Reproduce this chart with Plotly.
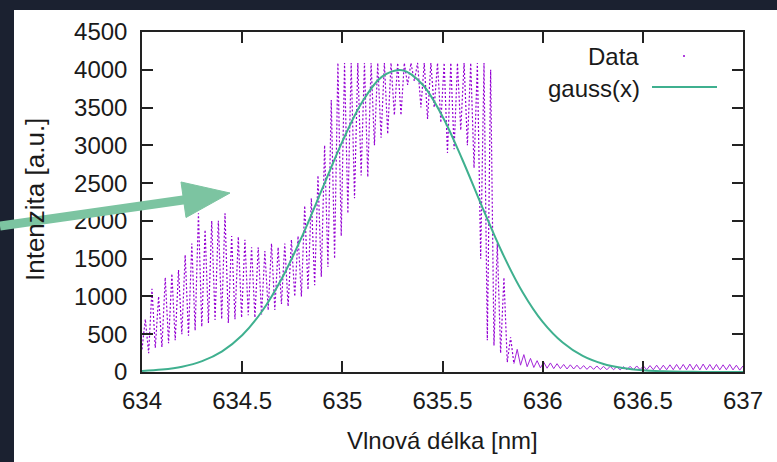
import plotly.graph_objects as go

# ---------------- data ----------------
x_tick_vals = [634, 634.5, 635, 635.5, 636, 636.5, 637]
x_tick_text = ["634", "634.5", "635", "635.5", "636", "636.5", "637"]
y_tick_vals = [0, 500, 1000, 1500, 2000, 2500, 3000, 3500, 4000, 4500]
y_tick_text = ["0", "500", "1000", "1500", "2000", "2500", "3000", "3500", "4000", "4500"]

# measured spectrum: fringe minima / maxima, one pair per fringe, 634 .. 637 nm
data_lows = [
    300, 250, 320, 330, 380, 420, 500, 480, 550, 600,
    650, 690, 700, 650, 700, 720, 750, 720, 760, 820,
    820, 900, 870, 1000, 1000, 1090, 1150, 1260, 1390, 1500,
    1800, 2100, 2300, 2600, 2580, 3000, 3100, 3150, 3400, 3400,
    3800, 3850, 3500, 3350, 3500, 3300, 2900, 2950, 3200, 3000,
    2700, 1500, 420, 350, 250, 130, 110, 90, 70, 60,
    55, 50, 45, 45, 40, 40, 38, 35, 35, 32,
    30, 30, 28, 30, 30, 32, 30, 30, 28, 30,
    30, 32, 30, 30, 28, 30, 30, 28, 30, 28, 25,
]
data_highs = [
    700, 1100, 1000, 1250, 1300, 1350, 1550, 1700, 2100, 1880,
    2000, 2000, 2100, 1800, 1790, 1750, 1650, 1650, 1600, 1700,
    1650, 1700, 1750, 1800, 2200, 2300, 2600, 3000, 3600, 4090,
    4090, 4090, 4090, 4090, 4090, 4090, 4090, 4090, 4090, 4090,
    4090, 4090, 4090, 4090, 4090, 4090, 4090, 4090, 4090, 4090,
    4090, 4090, 4000, 1700, 1250, 460, 300, 230, 180, 150,
    130, 120, 110, 100, 95, 90, 85, 80, 80, 75,
    75, 70, 70, 75, 80, 80, 85, 90, 90, 95,
    100, 100, 105, 100, 105, 100, 100, 95, 100, 90, 80,
]
wl_first, wl_last = 634.0, 637.0
tail_start = 635.84   # from here the ripples are drawn as a continuous trace

# fitted gaussian gauss(x), sampled every 0.1 nm
gauss_x = [634.0, 634.1, 634.2, 634.3, 634.4, 634.5, 634.6, 634.7, 634.8, 634.9,
           635.0, 635.1, 635.2, 635.3, 635.4, 635.5, 635.6, 635.7, 635.8, 635.9,
           636.0, 636.1, 636.2, 636.3, 636.4, 636.5, 636.6, 636.7, 636.8, 636.9, 637.0]
gauss_y = [14, 32, 70, 144, 274, 486, 807, 1248, 1801, 2426,
           3049, 3576, 3912, 3994, 3806, 3383, 2806, 2172, 1568, 1057,
           664, 390, 213, 109, 52, 23, 10, 4, 1, 0, 0]

# ---------------- build ----------------
data_y = []
for lo, hi in zip(data_lows, data_highs):
    data_y += [lo, hi]
n = len(data_y)
data_x = [wl_first + (wl_last - wl_first) * i / (n - 1) for i in range(n)]
cut = next(i for i, v in enumerate(data_x) if v >= tail_start)

PURPLE = "#9400d3"
GREEN = "#3fb08f"
ARROW = "#7cc4a1"
DARK = "#1b2130"
FONT = "Liberation Sans"
TXT = "#1a1a1a"
FS = 24

W, H = 777, 462
L, R, T, B = 142, 743, 32, 372   # plot-area pixel box


def px(xp):
    return (xp - L) / (R - L)


def py(yp):
    return (B - yp) / (B - T)


fig = go.Figure()
fig.add_trace(go.Scatter(
    x=data_x[:cut + 1], y=data_y[:cut + 1], mode="lines", name="Data",
    line=dict(color=PURPLE, width=1.2, dash="2px,2px"), showlegend=False))
fig.add_trace(go.Scatter(
    x=data_x[cut:], y=data_y[cut:], mode="lines", name="Data",
    line=dict(color=PURPLE, width=1), opacity=0.85, showlegend=False))
fig.add_trace(go.Scatter(
    x=gauss_x, y=gauss_y, mode="lines", name="gauss(x)",
    line=dict(color=GREEN, width=2, shape="spline", smoothing=1.0), showlegend=False))

axis_common = dict(
    showline=True, linecolor="#222", linewidth=1.5, mirror="ticks",
    ticks="inside", ticklen=11, tickwidth=1.5, tickcolor="#222",
    showgrid=False, zeroline=False,
    tickfont=dict(family=FONT, size=FS, color=TXT),
)
fig.update_xaxes(range=[634, 637], tickvals=x_tick_vals, ticktext=x_tick_text,
                 ticklabelstandoff=6, **axis_common)
fig.update_yaxes(range=[0, 4500], tickvals=y_tick_vals, ticktext=y_tick_text,
                 ticklabelstandoff=8, **axis_common)

annotations = [
    dict(text="Intenzita [a.u.]", xref="paper", yref="paper", x=px(35), y=py(200),
         textangle=-90, showarrow=False, xanchor="center", yanchor="middle",
         font=dict(family=FONT, size=26, color=TXT)),
    dict(text="Vlnová délka [nm]", xref="paper", yref="paper", x=0.5, y=py(440),
         showarrow=False, xanchor="center", yanchor="middle",
         font=dict(family=FONT, size=FS, color=TXT)),
    dict(text="Data", xref="paper", yref="paper", x=px(641), y=py(57),
         showarrow=False, xanchor="right", yanchor="middle",
         font=dict(family=FONT, size=FS, color=TXT)),
    dict(text="gauss(x)", xref="paper", yref="paper", x=px(642), y=py(88),
         showarrow=False, xanchor="right", yanchor="middle",
         font=dict(family=FONT, size=FS, color=TXT)),
]

shapes = [
    # dark frame bands of the screenshot
    dict(type="rect", xref="paper", yref="paper", x0=px(0), x1=px(14), y0=py(H), y1=py(0),
         fillcolor=DARK, line=dict(width=0), layer="above"),
    dict(type="rect", xref="paper", yref="paper", x0=px(0), x1=px(W), y0=py(10), y1=py(0),
         fillcolor=DARK, line=dict(width=0), layer="above"),
    # legend keys
    dict(type="line", xref="paper", yref="paper", x0=px(652), x1=px(717), y0=py(87), y1=py(87),
         line=dict(color=GREEN, width=2), layer="above"),
    dict(type="circle", xref="paper", yref="paper", x0=px(683), x1=px(685), y0=py(57), y1=py(55),
         fillcolor=PURPLE, line=dict(width=0), layer="above"),
    # green arrow
    dict(type="line", xref="paper", yref="paper", x0=px(0), y0=py(226), x1=px(190), y1=py(199),
         line=dict(color=ARROW, width=9), layer="above"),
    dict(type="path", xref="paper", yref="paper",
         path=f"M {px(230)},{py(193)} L {px(181)},{py(182)} L {px(186)},{py(217.5)} Z",
         fillcolor=ARROW, line=dict(color=ARROW, width=1), layer="above"),
]

fig.update_layout(
    width=W, height=H,
    margin=dict(l=L, r=W - R, t=T, b=H - B),
    paper_bgcolor="white", plot_bgcolor="white",
    showlegend=False,
    annotations=annotations, shapes=shapes,
)

fig.write_html("out.html", config={"displayModeBar": False},
               post_script="document.body.style.margin='0';document.body.style.overflow='hidden';")
